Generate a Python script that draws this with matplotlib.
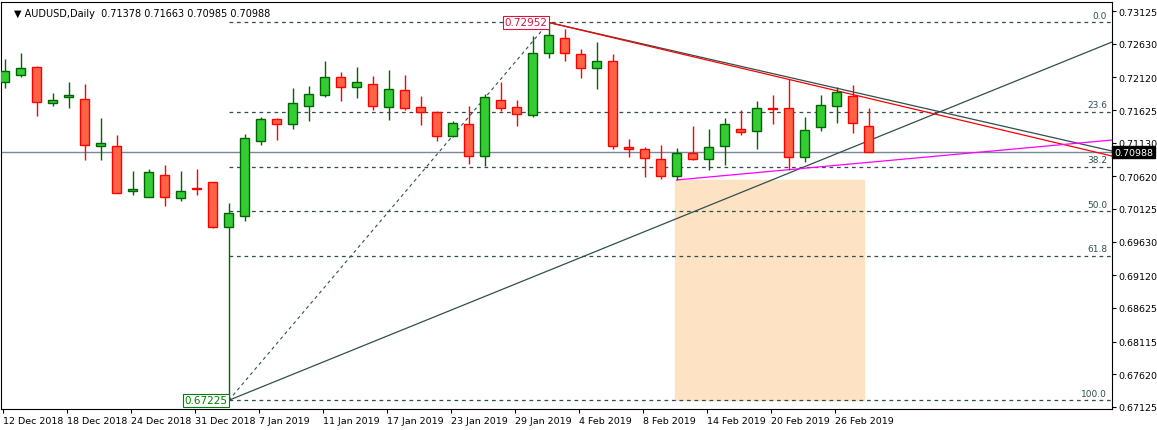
import numpy as np
import matplotlib
matplotlib.use('Agg')
import matplotlib.pyplot as plt
from matplotlib.patches import Rectangle

# daily AUDUSD candles
opens = [0.72049, 0.72155, 0.72277, 0.71731, 0.71822, 0.71792, 0.71080, 0.71080, 0.70398, 0.70307,
         0.70640, 0.70292, 0.70443, 0.70534, 0.69852, 0.70019, 0.71155, 0.71489, 0.71413, 0.71686,
         0.71852, 0.72125, 0.71974, 0.72019, 0.71670, 0.71928, 0.71670, 0.71595, 0.71231, 0.71413,
         0.70928, 0.71777, 0.71670, 0.71549, 0.72489, 0.72716, 0.72474, 0.72261, 0.72368, 0.71064,
         0.71034, 0.70883, 0.70625, 0.70974, 0.70883, 0.71080, 0.71337, 0.71307, 0.71655, 0.71655,
         0.70913, 0.71367, 0.71686, 0.71837, 0.71378]
highs = [0.72398, 0.72489, 0.72292, 0.71883, 0.72049, 0.72019, 0.71504, 0.71246, 0.70701, 0.70731,
         0.70792, 0.70701, 0.70731, 0.70540, 0.70216, 0.71261, 0.71519, 0.71504, 0.71958, 0.71989,
         0.72368, 0.72201, 0.72277, 0.72140, 0.72231, 0.72155, 0.71837, 0.71610, 0.71458, 0.71686,
         0.71867, 0.72049, 0.71777, 0.72746, 0.72952, 0.72852, 0.72549, 0.72655, 0.72474, 0.71186,
         0.71064, 0.71095, 0.71049, 0.71383, 0.71337, 0.71504, 0.71625, 0.71761, 0.71852, 0.72095,
         0.71519, 0.71852, 0.71974, 0.72004, 0.71663]
lows = [0.71958, 0.72125, 0.71534, 0.71686, 0.71655, 0.70867, 0.70867, 0.70367, 0.70337, 0.70307,
        0.70171, 0.70246, 0.70337, 0.69837, 0.67225, 0.69943, 0.71095, 0.71170, 0.71337, 0.71458,
        0.71822, 0.71761, 0.71807, 0.71625, 0.71474, 0.71625, 0.71398, 0.71155, 0.71216, 0.70807,
        0.70777, 0.71610, 0.71383, 0.71519, 0.72413, 0.72368, 0.72110, 0.71943, 0.71034, 0.70913,
        0.70610, 0.70580, 0.70565, 0.70867, 0.70716, 0.70792, 0.71246, 0.71034, 0.71413, 0.70716,
        0.70837, 0.71307, 0.71428, 0.71277, 0.70985]
closes = [0.72216, 0.72261, 0.71746, 0.71777, 0.71852, 0.71095, 0.71125, 0.70367, 0.70428, 0.70686,
          0.70307, 0.70398, 0.70428, 0.69852, 0.70064, 0.71201, 0.71489, 0.71413, 0.71731, 0.71867,
          0.72125, 0.71974, 0.72049, 0.71686, 0.71943, 0.71655, 0.71595, 0.71231, 0.71428, 0.70928,
          0.71822, 0.71655, 0.71564, 0.72489, 0.72762, 0.72489, 0.72261, 0.72368, 0.71080, 0.71034,
          0.70898, 0.70625, 0.70974, 0.70883, 0.71064, 0.71413, 0.71292, 0.71655, 0.71640, 0.70913,
          0.71322, 0.71701, 0.71898, 0.71428, 0.70988]

date_labels = ['12 Dec 2018', '18 Dec 2018', '24 Dec 2018', '31 Dec 2018', '7 Jan 2019', '11 Jan 2019',
               '17 Jan 2019', '23 Jan 2019', '29 Jan 2019', '4 Feb 2019', '8 Feb 2019', '14 Feb 2019',
               '20 Feb 2019', '26 Feb 2019']
price_ticks = [0.73125, 0.72630, 0.72120, 0.71625, 0.71130, 0.70620, 0.70125,
               0.69630, 0.69120, 0.68625, 0.68115, 0.67620, 0.67125]
fib_levels = [0.0, 23.6, 38.2, 50.0, 61.8, 100.0]

swing_low = 0.67225
swing_high = 0.72952
last_price = 0.70988
x_low, x_high = 14, 34

fig = plt.figure(figsize=(11.57, 4.31), dpi=100)
ax = fig.add_axes([0.001, 0.049, 0.960, 0.944])
n = len(opens)
xs = np.arange(n)
x_right = 69.2
ax.set_xlim(-0.225, x_right)
ax.set_ylim(0.67095, 0.73262)

# fib levels
rng = swing_high - swing_low
for lv in fib_levels:
    p = swing_high - rng * lv / 100
    ax.plot([x_low, x_right], [p, p], color='#2F4F4F', lw=0.9, ls=(0, (3, 3)), zorder=1)
    ax.text(x_right - 0.3, p + 0.0004, '%.1f' % lv, ha='right', va='bottom', fontsize=6.5, color='#2F4F4F')
ax.plot([x_low, x_high], [swing_low, swing_high], color='#2F4F4F', lw=0.8, ls=(0, (3, 3)), zorder=1)

# projection box
ax.add_patch(Rectangle((41.9, swing_low), 11.8, 0.70565 - swing_low, color='#FDE3C4', zorder=0))

# price line
ax.axhline(last_price, color='#778899', lw=1, zorder=1)

# trend lines
ax.plot([x_low, x_right], [swing_low, 0.72655], color='#2F4F4F', lw=0.9, zorder=3)
ax.plot([x_high, x_right], [swing_high, 0.71004], color='#2F4F4F', lw=0.9, zorder=3)
ax.plot([x_high, x_right], [swing_high, 0.70928], color='red', lw=0.9, zorder=3)
ax.plot([42, x_right], [0.70565, 0.71170], color='magenta', lw=0.9, zorder=3)

# candles
for i in range(n):
    up = closes[i] >= opens[i]
    edge = '#006400' if up else 'red'
    fill = '#32CD32' if up else '#FF6347'
    ax.vlines(xs[i], lows[i], highs[i], color=edge, lw=1, zorder=4)
    lo, hi = min(opens[i], closes[i]), max(opens[i], closes[i])
    ax.add_patch(Rectangle((xs[i] - 0.28, lo), 0.56, max(hi - lo, 0.00005),
                           facecolor=fill, edgecolor=edge, lw=1, zorder=5))

# swing labels
ax.text(x_high - 0.1, swing_high, '%.5f' % swing_high, ha='right', va='center', fontsize=7.5, color='#DC143C',
        bbox=dict(boxstyle='square,pad=0.15', fc='white', ec='#DC143C', lw=0.8), zorder=6)
ax.text(x_low - 0.1, swing_low, '%.5f' % swing_low, ha='right', va='center', fontsize=7.5, color='green',
        bbox=dict(boxstyle='square,pad=0.15', fc='white', ec='green', lw=0.8), zorder=6)

ax.text(0.012, 0.985, '\u25bc AUDUSD,Daily  0.71378 0.71663 0.70985 0.70988', transform=ax.transAxes,
        ha='left', va='top', fontsize=7)

# axes
ax.yaxis.tick_right()
ax.set_yticks(price_ticks)
ax.set_yticklabels(['%.5f' % p for p in price_ticks], fontsize=6.8)
ax.tick_params(axis='y', length=3, pad=2)
ax.set_xticks([4 * j - 0.1 for j in range(len(date_labels))])
ax.set_xticklabels(date_labels, fontsize=6.8, ha='left')
ax.tick_params(axis='x', length=3, pad=2)
for s in ax.spines.values():
    s.set_color('black')
    s.set_linewidth(0.8)

ax.text(1.002, last_price, '%.5f' % last_price, transform=ax.get_yaxis_transform(), ha='left', va='center',
        fontsize=6.8, color='white', bbox=dict(boxstyle='square,pad=0.2', fc='black', ec='black'), zorder=7,
        clip_on=False)

fig.savefig('out.png', dpi=100)
